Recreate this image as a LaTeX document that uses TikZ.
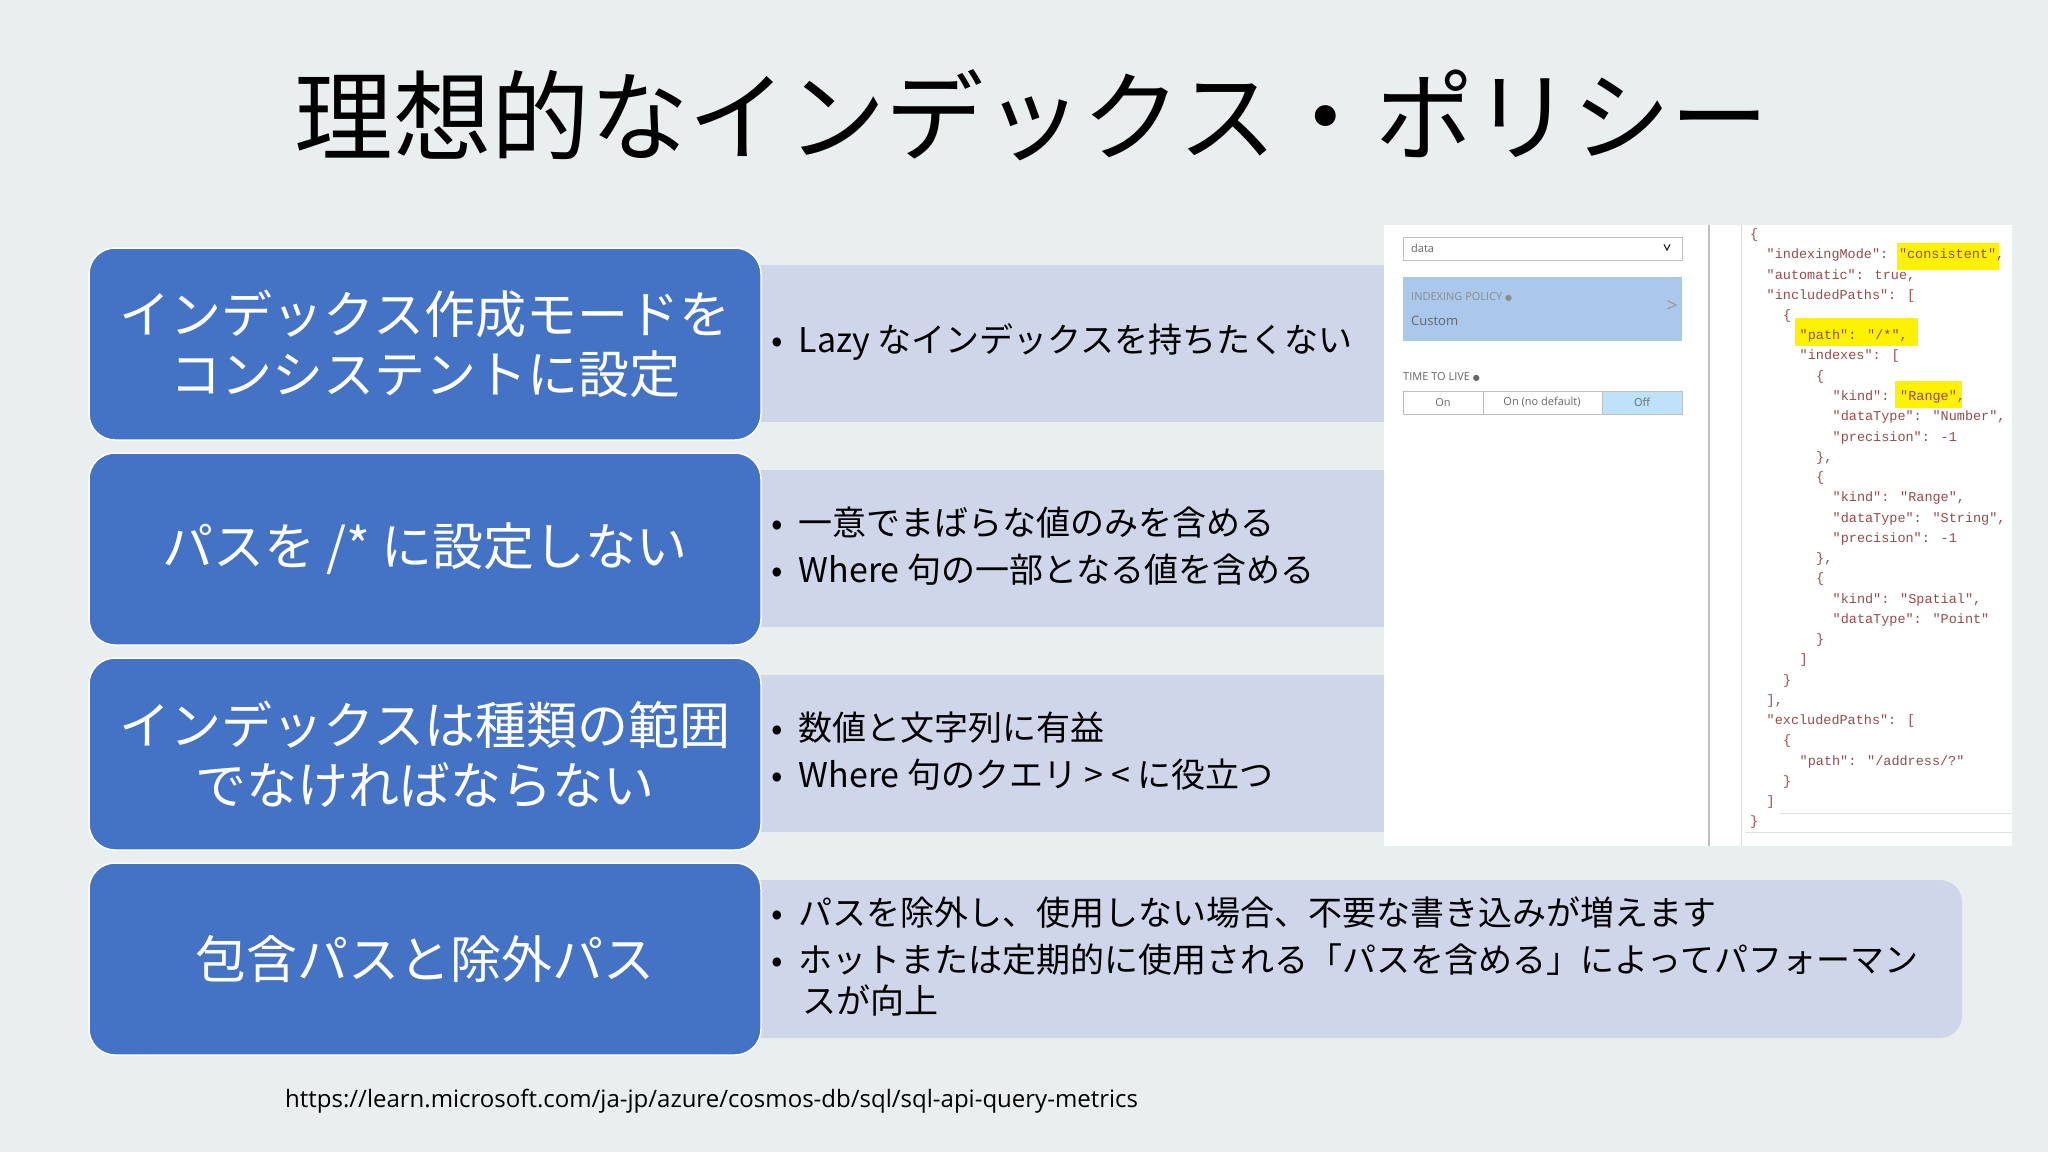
\documentclass[tikz,border=0pt]{standalone}
\usepackage{fontspec}
\setmainfont{Noto Sans CJK JP}
\newfontfamily\codef{Liberation Mono}
\newfontfamily\uif{Open Sans}
\newfontfamily\symf{DejaVu Sans}
\definecolor{bg}{HTML}{E9EEEE}
\definecolor{bluebox}{HTML}{4472C4}
\definecolor{lav}{HTML}{D0D6EA}
\definecolor{idx}{HTML}{A9C8EA}
\definecolor{offc}{HTML}{BEE3F8}
\definecolor{keyc}{HTML}{9A4A4A}
\definecolor{valc}{HTML}{3A5A8A}
\definecolor{hl}{HTML}{FFF200}
\begin{document}
\begin{tikzpicture}[x=1pt,y=-1pt,
  bb/.style={draw=white,line width=1.5pt,fill=bluebox,rounded corners=26pt},
  lb/.style={fill=lav},
  bt/.style={text=white,font=\fontsize{51}{60}\selectfont,align=center},
  bul/.style={anchor=west,font=\fontsize{34}{40}\selectfont,inner sep=0pt},
  cl/.style={anchor=west,inner sep=0pt,font=\codef\fontsize{13.5}{16}\selectfont,text=keyc},
  ui/.style={inner sep=0pt,font=\uif\fontsize{11}{13}\selectfont,text=black!60}]
\fill[bg] (0,0) rectangle (2048,1152);
\useasboundingbox (0,0) rectangle (2048,1152);
\node (title) at (1032,115) {\fontsize{98.5}{110}\selectfont 理想的なインデックス・ポリシー};
% light boxes
\fill[lb] (740,265) rectangle (1384,422);
\fill[lb] (740,470) rectangle (1384,627);
\fill[lb] (740,675) rectangle (1384,832);
\fill[lb,rounded corners=22pt] (740,880) rectangle (1962,1038);
% blue boxes
\draw[bb] (89,248) rectangle node[bt] (b1) {インデックス作成モードを\\コンシステントに設定} (761,440);
\draw[bb] (89,453) rectangle node[bt] (b2) {パスを /* に設定しない} (761,645);
\draw[bb] (89,658) rectangle node[bt] (b3) {インデックスは種類の範囲\\でなければならない} (761,850);
\draw[bb] (89,863) rectangle node[bt] (b4) {包含パスと除外パス} (761,1055);
% bullets
\node[bul] (t1) at (771,342) {•\hspace{16pt}Lazy なインデックスを持ちたくない};
\node[bul] (t2) at (771,523) {•\hspace{16pt}一意でまばらな値のみを含める};
\node[bul] (t3) at (771,570) {•\hspace{16pt}Where 句の一部となる値を含める};
\node[bul] (t4) at (771,728) {•\hspace{16pt}数値と文字列に有益};
\node[bul] (t5) at (771,775) {•\hspace{16pt}Where 句のクエリ > < に役立つ};
\node[bul] (t6) at (771,913) {•\hspace{16pt}パスを除外し、使用しない場合、不要な書き込みが増えます};
\node[bul] (t7) at (771,960) {•\hspace{16pt}ホットまたは定期的に使用される「パスを含める」によってパフォーマン};
\node[bul] (t8) at (802,1000) {スが向上};
\node[anchor=west,inner sep=0pt] (url) at (285,1101) {\uif\fontsize{24}{30}\selectfont https://learn.microsoft.com/ja-jp/azure/cosmos-db/sql/sql-api-query-metrics};
% screenshot
\fill[white] (1384,225) rectangle (2012,846);
\draw[black!25,line width=1.5pt] (1709,225) -- (1709,846);
\draw[black!15,line width=1pt] (1741,225) -- (1741,846);
\draw[black!25,fill=white] (1403,237) rectangle (1682,260);
\node[ui,anchor=west] (dd) at (1411,248) {data};
\node[inner sep=0pt] (ddc) at (1667,248) {\fontsize{9}{9}\selectfont\textbf{∨}};
\fill[idx] (1403,277) rectangle (1682,341);
\node[ui,anchor=west,text=black!45] (ip) at (1411,297) {INDEXING POLICY {\symf\fontsize{8}{8}\selectfont ●}};
\node[ui,anchor=west,text=black!60,font=\uif\fontsize{13}{15}\selectfont] (cu) at (1411,321) {Custom};
\node[ui,text=black!40,font=\uif\fontsize{20}{20}\selectfont] (gt) at (1672,306) {>};
\node[ui,anchor=west] (ttl) at (1403,377) {TIME TO LIVE {\symf\fontsize{8}{8}\selectfont ●}};
\fill[offc] (1602,391) rectangle (1682,414);
\draw[black!25] (1403,391) rectangle (1682,414);
\draw[black!25] (1483,391) -- (1483,414) (1602,391) -- (1602,414);
\node[ui] (on) at (1443,402.5) {On};
\node[ui] (ond) at (1542,402.5) {On (no default)};
\node[ui] (off) at (1642,402.5) {Off};
% highlights
\fill[hl] (1897,243) rectangle (1999,270);
\fill[hl] (1795,318) rectangle (1918,346);
\fill[hl] (1895,381) rectangle (1962,408);
\def\ind{16.5}
\foreach \lv/\txt [count=\i from 0] in {
0/{\{},
1/{"indexingMode": "consistent"\char44},
1/{"automatic": true\char44},
1/{"includedPaths": [},
2/{\{},
3/{"path": "/*"\char44},
3/{"indexes": [},
4/{\{},
5/{"kind": "Range"\char44},
5/{"dataType": "Number"\char44},
5/{"precision": -1},
4/{\}\char44},
4/{\{},
5/{"kind": "Range"\char44},
5/{"dataType": "String"\char44},
5/{"precision": -1},
4/{\}\char44},
4/{\{},
5/{"kind": "Spatial"\char44},
5/{"dataType": "Point"},
4/{\}},
3/{]},
2/{\}},
1/{]\char44},
1/{"excludedPaths": [},
2/{\{},
3/{"path": "/address/?"},
2/{\}},
1/{]},
0/{\}}}
  \node[cl] (c\i) at (1750+\lv*\ind, 235+\i*20.25) {\txt};
\draw[black!12] (1780,813) -- (2012,813) (1745,832) -- (2012,832);
\end{tikzpicture}
\end{document}
